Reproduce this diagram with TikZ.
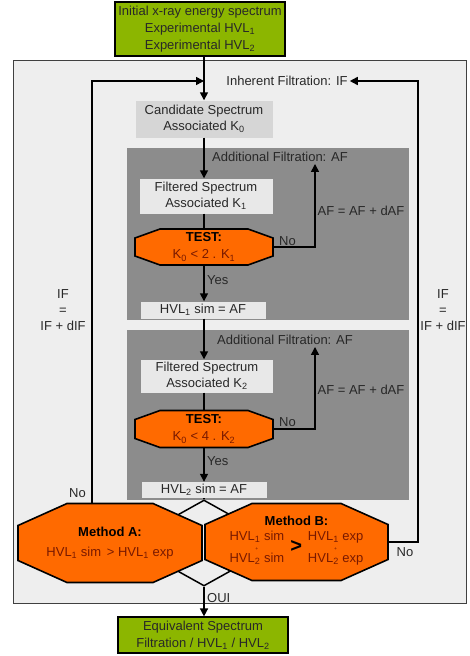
\documentclass[tikz,border=0pt]{standalone}
\usepackage{fontspec}
\setmainfont{Liberation Sans}
\usetikzlibrary{arrows.meta,shapes.geometric}
\definecolor{framebg}{RGB}{238,238,238}
\definecolor{candbg}{RGB}{214,214,214}
\definecolor{boxbg}{RGB}{232,232,232}
\definecolor{panelbg}{RGB}{140,140,140}
\definecolor{orangefill}{RGB}{255,106,0}
\definecolor{greenfill}{RGB}{140,182,0}
\definecolor{txt}{RGB}{40,40,40}
\definecolor{redtxt}{RGB}{120,25,0}
% octagon outline: centre x, centre y, width, height, chamfer x, chamfer y
\newcommand\octshape[6]{%
  \path[octline] ({#1-#3/2+#5},{#2-#4/2}) -- ({#1+#3/2-#5},{#2-#4/2})
    -- ({#1+#3/2},{#2-#4/2+#6}) -- ({#1+#3/2},{#2+#4/2-#6})
    -- ({#1+#3/2-#5},{#2+#4/2}) -- ({#1-#3/2+#5},{#2+#4/2})
    -- ({#1-#3/2},{#2+#4/2-#6}) -- ({#1-#3/2},{#2-#4/2+#6}) -- cycle;}
\begin{document}
\begin{tikzpicture}[x=1pt,y=-1pt,
  font=\fontsize{13}{16}\selectfont,
  framebox/.style={draw=black!75,line width=0.8pt,fill=framebg,inner sep=0},
  panel/.style={fill=panelbg,inner sep=0},
  lbox/.style={fill=boxbg,text=txt,inner sep=0,align=center},
  gbox/.style={draw=black,line width=1.2pt,fill=greenfill,text=txt,inner sep=0,align=center,font=\fontsize{13}{17}\selectfont},
  octline/.style={draw=black,line width=1.6pt,fill=orangefill},
  octtext/.style={inner sep=0,align=center,text=black,font=\fontsize{13}{17}\selectfont},
  lab/.style={text=txt,inner sep=2pt,align=center},
  conn/.style={line width=1.5pt},
  arr/.style={line width=1.5pt,-{Triangle[width=8pt,length=8pt]}}]
\useasboundingbox (0,0) rectangle (469,656);
% background regions
\node[framebox,minimum width=453,minimum height=543] (frame) at (239.5,331.5) {};
\node[panel,minimum width=282,minimum height=172] (p1) at (268,234) {};
\node[panel,minimum width=282,minimum height=170] (p2) at (268,415) {};
% boxes
\node[gbox,minimum width=170,minimum height=54] (top) at (200,29)
  {Initial x-ray energy spectrum\\Experimental HVL\textsubscript{1}\\Experimental HVL\textsubscript{2}};
\node[lab] (ifl) at (287,81) {Inherent Filtration: IF};
\node[lbox,fill=candbg,minimum width=137,minimum height=37] (cand) at (204,119)
  {Candidate Spectrum\\Associated K\textsubscript{0}};
\node[lab] (af1) at (280,157) {Additional Filtration: AF};
\node[lbox,minimum width=133,minimum height=35] (f1) at (206,196)
  {Filtered Spectrum\\Associated K\textsubscript{1}};
\node[lab] (afe1) at (361,211) {AF = AF + dAF};
\octshape{204}{247}{138}{36}{25}{9}
\node[octtext,minimum width=138,minimum height=36] (t1) at (204,247)
  {\textbf{TEST:}\\\textcolor{redtxt}{K\textsubscript{0} < 2 . K\textsubscript{1}}};
\node[lbox,minimum width=125,minimum height=17] (h1) at (203,310) {HVL\textsubscript{1} sim = AF};
\node[lab] (af2) at (285,340) {Additional Filtration: AF};
\node[lbox,minimum width=132,minimum height=33] (f2) at (207,376)
  {Filtered Spectrum\\Associated K\textsubscript{2}};
\node[lab] (afe2) at (361,390) {AF = AF + dAF};
\octshape{204}{429}{138}{37}{25}{9}
\node[octtext,minimum width=138,minimum height=37] (t2) at (204,429)
  {\textbf{TEST:}\\\textcolor{redtxt}{K\textsubscript{0} < 4 . K\textsubscript{2}}};
\node[lbox,minimum width=125,minimum height=16] (h2) at (204,490) {HVL\textsubscript{2} sim = AF};
\node[lab] (ifL) at (63,310) {IF\\=\\IF + dIF};
\node[lab] (ifR) at (443,310) {IF\\=\\IF + dIF};
% connectors in the column
\draw[arr] (cand.north |- top.south) -- (cand.north);
\draw[arr] (cand.south) -- (cand.south |- f1.north);
\draw[conn] (f1.south -| t1) -- (t1.north);
\draw[arr] (t1.south) -- (t1.south |- h1.north);
\draw[arr] (t1.east) -| ([xshift=35pt]af1.south);
\node[lab,anchor=south west] (no1) at (277,248) {No};
\node[lab,anchor=west] (yes1) at (205,280) {Yes};
\draw[arr] (h1.south -| cand) -- (cand.south |- f2.north);
\draw[conn] (f2.south -| t2) -- (t2.north);
\draw[arr] (t2.south) -- (t2.south |- h2.north);
\draw[arr] (t2.east) -| ([xshift=30pt]af2.south);
\node[lab,anchor=south west] (no2) at (277,429) {No};
\node[lab,anchor=west] (yes2) at (205,461) {Yes};
% diamond and methods
\node[diamond,draw=black,line width=1.5pt,minimum width=154,minimum height=86,inner sep=0] (dia) at (204,543) {};
\draw[conn] (h2.south) -- (dia.north);
\octshape{110}{543}{184}{79}{49}{22}
\node[octtext,minimum width=184,minimum height=79] (mA) at (110,543)
  {\textbf{Method A:}\\[3pt]\textcolor{redtxt}{HVL\textsubscript{1} sim\, > HVL\textsubscript{1} exp}};
\octshape{296.5}{542}{183}{77}{47}{21}
\node[octtext,minimum width=183,minimum height=77] (mB) at (296.5,542)
  {\textbf{Method B:}\\[2pt]\textcolor{redtxt}{\begin{tabular}{@{}c@{}}HVL\textsubscript{1} sim\\[-7pt]{\tiny +}\\[-5pt]HVL\textsubscript{2} sim\end{tabular}}\hspace{6pt}\raisebox{-1pt}{\fontsize{20}{20}\selectfont\textbf{>}}\hspace{6pt}\textcolor{redtxt}{\begin{tabular}{@{}c@{}}HVL\textsubscript{1} exp\\[-7pt]{\tiny +}\\[-5pt]HVL\textsubscript{2} exp\end{tabular}}};
\draw[arr] ([xshift=-18pt]mA.north) |- (cand.north |- ifl);
\node[lab,anchor=east] (noA) at (88,493) {No};
\draw[arr] (mB.east) -- ++(30,0) |- (ifl.east);
\node[lab,anchor=north] (noB) at (405,545) {No};
% output
\node[gbox,minimum width=170,minimum height=36] (out) at (203,635)
  {Equivalent Spectrum\\Filtration / HVL\textsubscript{1} / HVL\textsubscript{2}};
\draw[arr] (dia.south) -- (dia.south |- out.north);
\node[lab,anchor=west] (oui) at (205,598) {OUI};
\end{tikzpicture}
\end{document}
